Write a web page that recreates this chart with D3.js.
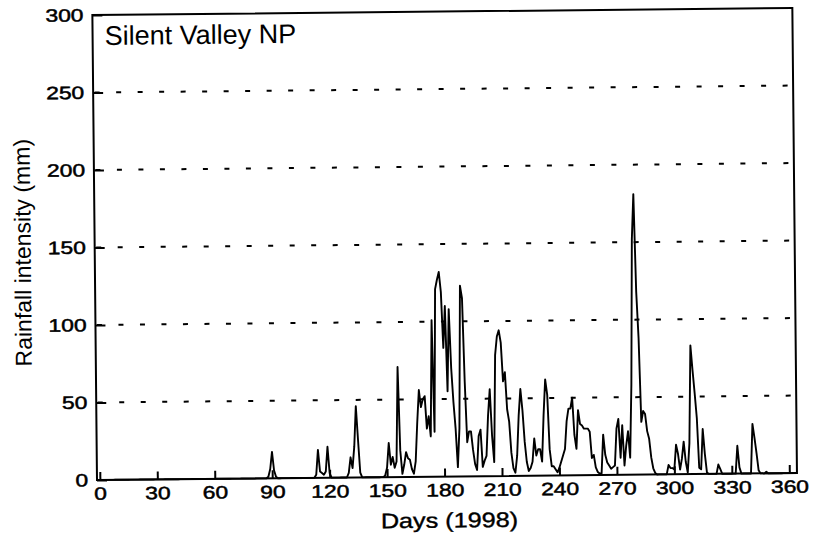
<!DOCTYPE html>
<html lang="en">
<head>
<meta charset="utf-8">
<title>Silent Valley NP rainfall</title>
<script src="https://d3js.org/d3.v7.min.js"></script>
<style>
  body { margin: 0; background: #fff; }
  text { fill: #000; }
</style>
</head>
<body>
<div id="chart"></div>
<script>

// daily rainfall (mm) for 1998, one value per day starting at day 0
var rain = [
  0, 0, 0, 0, 0, 0, 0, 0, 0, 0,          // 0
  0, 0, 0, 0, 0, 0, 0, 0, 0, 0,          // 10
  0, 0, 0, 0, 0, 0, 0, 0, 0, 0,          // 20
  0, 0, 0, 0, 0, 0, 0, 0, 0, 0,          // 30
  0, 0, 0, 0, 0, 0, 0, 0, 0, 0,          // 40
  0, 0, 0, 0, 0, 0, 0, 0, 0, 0,          // 50
  0, 0, 0, 0, 0, 0, 0, 0, 0, 0,          // 60
  0, 0, 0, 0, 0, 0, 0, 0, 0, 0,          // 70
  0, 0, 0, 0, 0, 0, 0, 0, 1, 6,          // 80
  17, 5, 1, 0, 0, 0, 0, 0, 0, 0,         // 90
  0, 0, 0, 0, 0, 0, 0, 0, 0, 0,          // 100
  0, 0, 0, 2, 18, 4, 3, 2, 4, 20,        // 110
  3, 0, 0, 0, 0, 0, 0, 0, 0, 0,          // 120
  3, 13, 6, 20, 46, 24, 3, 0, 0, 0,      // 130
  0, 0, 0, 0, 0, 0, 0, 0, 0, 1,          // 140
  6, 22, 8, 13, 6, 10, 71, 17, 2, 8,     // 150
  16, 12, 11, 5, 2, 10, 35, 56, 45, 50,  // 160
  52, 31, 39, 26, 101, 29, 121, 127, 132, 119, // 170
  83, 110, 55, 108, 70, 48, 31, 6, 31, 123,    // 180
  115, 61, 22, 29, 29, 17, 8, 4, 26, 30, // 190
  6, 10, 13, 39, 56, 26, 9, 78, 90, 94,  // 200
  86, 61, 67, 43, 35, 15, 5, 2, 13, 39,  // 210
  56, 42, 22, 9, 3, 5, 9, 24, 13, 17,    // 220
  17, 9, 39, 62, 52, 17, 6, 6, 4, 2,     // 230
  5, 9, 13, 17, 35, 43, 43, 50, 26, 17,  // 240
  42, 33, 32, 30, 30, 30, 28, 11, 13, 5, // 250
  2, 1, 1, 26, 13, 8, 6, 4, 5, 6,        // 260
  30, 36, 11, 32, 6, 19, 28, 11, 58, 152, // 270
  181, 118, 88, 34, 41, 39, 28, 23, 11, 4, // 280
  1, 0, 0, 0, 0, 0, 0, 6, 4, 4,          // 290
  3, 19, 13, 3, 10, 21, 8, 1, 20, 83,    // 300
  67, 52, 36, 4, 3, 29, 13, 1, 0, 0,     // 310
  0, 0, 0, 6, 3, 0, 0, 0, 0, 0,          // 320
  0, 0, 0, 18, 4, 0, 0, 0, 0, 0,         // 330
  0, 32, 23, 13, 2, 0, 0, 0, 1, 0,       // 340
  0, 0, 0, 0, 0, 0, 0, 0, 0, 0,          // 350
  0, 0, 0, 0, 0                          // 360
];

var xTicks = [0, 30, 60, 90, 120, 150, 180, 210, 240, 270, 300, 330, 360];
var yTicks = [0, 50, 100, 150, 200, 250, 300];
var gridValues = [50, 100, 150, 200, 250];

var title = "Silent Valley NP",
    xTitle = "Days (1998)",
    yTitle = "Rainfall intensity (mm)";

// set the dimensions and margins of the graph
var margin = {top: 15, right: 17, bottom: 77, left: 97},
    width = 814 - margin.left - margin.right,
    height = 557 - margin.top - margin.bottom;

var font = "'Liberation Sans', Arial, sans-serif";

// the scanned original sits slightly tilted, so the plot is turned a touch about its bottom-left corner
var svg = d3.select("#chart")
  .append("svg")
    .attr("width", 814)
    .attr("height", 557)
  .append("g")
    .attr("transform", "translate(" + margin.left + "," + margin.top + ") rotate(-0.57,0," + height + ")");

var x = d3.scaleLinear()
  .domain([-1.5, 364])
  .range([0, width]);

var y = d3.scaleLinear()
  .domain([0, 300])
  .range([height, 0]);

// dotted horizontal grid
svg.selectAll(".grid")
  .data(gridValues)
  .enter()
  .append("line")
    .attr("class", "grid")
    .attr("x1", 0)
    .attr("x2", width)
    .attr("y1", function(d) { return y(d); })
    .attr("y2", function(d) { return y(d); })
    .attr("stroke", "#000")
    .attr("stroke-width", 2)
    .attr("stroke-dasharray", "5,16.5")
    .attr("stroke-dashoffset", -1.5);

// x axis (ticks point inwards)
var xAxis = svg.append("g")
  .attr("transform", "translate(0," + height + ")")
  .call(d3.axisBottom(x).tickValues(xTicks).tickSizeInner(-8).tickSizeOuter(0).tickPadding(7));

// y axis
var yAxis = svg.append("g")
  .call(d3.axisLeft(y).tickValues(yTicks).tickSizeInner(-10).tickSizeOuter(0).tickPadding(7));

[xAxis, yAxis].forEach(function(ax) {
  ax.select(".domain").remove();
  ax.attr("font-family", font).attr("font-size", 18);
  ax.selectAll(".tick line").attr("stroke", "#000").attr("stroke-width", 2);
  ax.selectAll(".tick text")
    .attr("fill", "#000")
    .attr("stroke", "#000")
    .attr("stroke-width", 0.5)
    .attr("transform", "scale(1.27,1)");
});

// rainfall line
var line = d3.line()
  .x(function(d, i) { return x(i); })
  .y(function(d) { return y(d); });

svg.append("path")
  .datum(rain)
  .attr("fill", "none")
  .attr("stroke", "#000")
  .attr("stroke-width", 1.9)
  .attr("stroke-linejoin", "round")
  .attr("d", line);

// frame
svg.append("rect")
  .attr("x", 0)
  .attr("y", 0)
  .attr("width", width)
  .attr("height", height)
  .attr("fill", "none")
  .attr("stroke", "#000")
  .attr("stroke-width", 2);

// title inside the plot
svg.append("text")
  .attr("x", 12)
  .attr("y", 30)
  .text(title)
  .style("font", "27px " + font);

// x axis label
svg.append("text")
  .attr("text-anchor", "middle")
  .attr("transform", "translate(" + (449 - margin.left) + "," + (531 - margin.top) + ") scale(1.2,1)")
  .attr("stroke", "#000")
  .attr("stroke-width", 0.4)
  .text(xTitle)
  .style("font", "21px " + font);

// y axis label
svg.append("text")
  .attr("text-anchor", "middle")
  .attr("transform", "translate(" + (33 - margin.left) + "," + (252 - margin.top) + ") rotate(-90)")
  .text(yTitle)
  .style("font", "23px " + font);

</script>
</body>
</html>
